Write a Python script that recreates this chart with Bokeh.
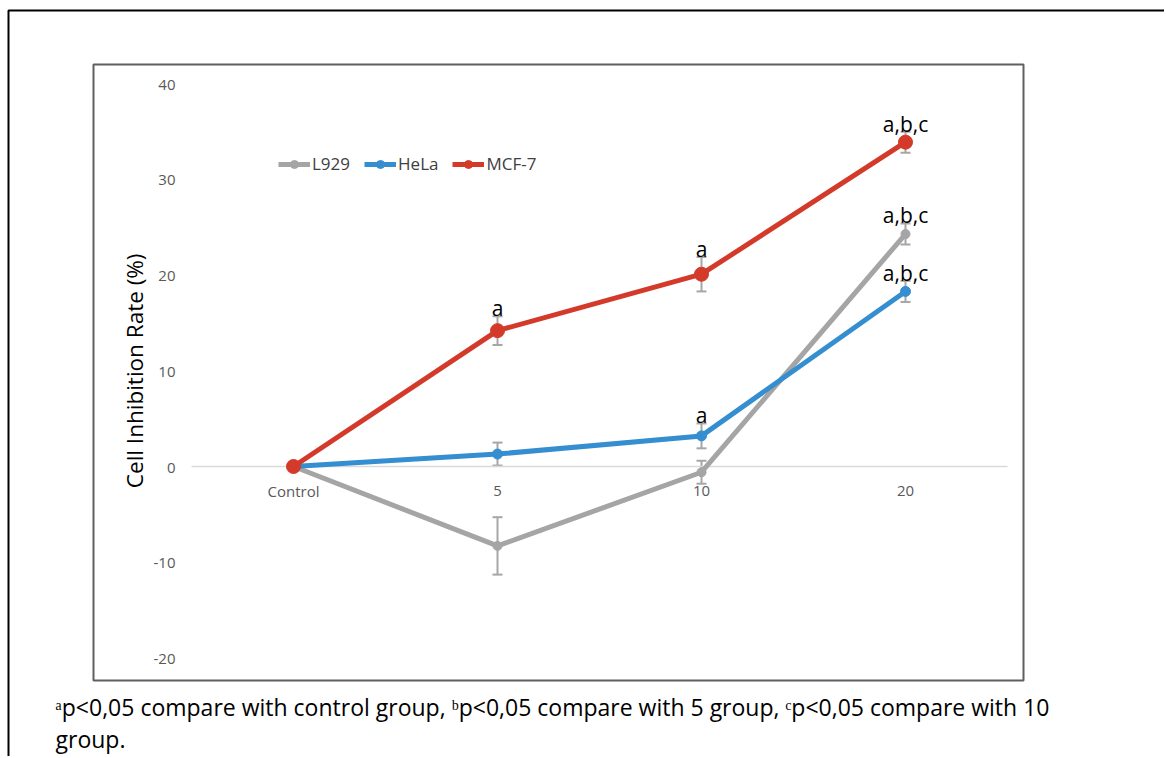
import math
from bokeh.plotting import figure
from bokeh.models import (ColumnDataSource, Range1d, BoxAnnotation, Label,
                          Legend, LegendItem, Whisker)
from bokeh.core.properties import value
from bokeh.embed import file_html
from bokeh.resources import INLINE

# ---- data ----
categories = ["Control", "5", "10", "20"]
l929 = [0.0, -8.3, -0.6, 24.3]
l929_err = [0.0, 3.0, 1.2, 1.1]
hela = [0.0, 1.3, 3.2, 18.3]
hela_err = [0.0, 1.2, 1.3, 1.1]
mcf7 = [0.0, 14.2, 20.1, 33.9]
mcf7_err = [0.0, 1.5, 1.8, 1.1]
l929_sig = ["", "", "", "a,b,c"]
hela_sig = ["", "", "a", "a,b,c"]
mcf7_sig = ["", "a", "a", "a,b,c"]
y_ticks = [-20, -10, 0, 10, 20, 30, 40]
y_tick_labels = ["-20", "-10", "0", "10", "20", "30", "40"]
y_title = "Cell Inhibition Rate (%)"
footnote_1 = "\u1d43p<0,05 compare with control group, \u1d47p<0,05 compare with 5 group, \u1d9cp<0,05 compare with 10"
footnote_2 = "group."

FONT = "Open Sans"
GRAY = "#A5A5A5"
BLUE = "#358ED0"
RED = "#D43A2A"
ERR = "#A6A6A6"

W, H = 1164, 756
PX_X = 204.0      # pixels per category step
PX_Y = 9.567      # pixels per percentage unit
X0_PIX, Y0_PIX = 293.0, 466.0   # where Control / 0 sit on the canvas

xs = list(range(len(categories)))
x_start = -X0_PIX / PX_X
x_end = (W - X0_PIX) / PX_X
y_top = Y0_PIX / PX_Y
y_bot = -(H - Y0_PIX) / PX_Y

p = figure(width=W, height=H, output_backend="svg", toolbar_location=None, tools="",
           x_range=Range1d(x_start, x_end), y_range=Range1d(y_bot, y_top),
           x_axis_location=None, y_axis_location=None,
           min_border=0, min_border_left=0, min_border_right=0, min_border_top=0, min_border_bottom=0)
p.outline_line_color = None
p.xgrid.visible = False
p.ygrid.visible = False
p.background_fill_color = "white"
p.border_fill_color = "white"

# zero line (from category edge to category edge)
p.segment(x0=[xs[0] - 0.5], y0=[0], x1=[xs[-1] + 0.5], y1=[0], line_color="#D9D9D9", line_width=1.5)

# y tick labels
p.text(x=[x_start] * len(y_ticks), y=y_ticks, text=y_tick_labels, text_font=value(FONT),
       text_font_size="15px", text_color="#595959", text_align="right", text_baseline="middle",
       x_offset=175, y_offset=1)
# y axis title
p.text(x=[x_start], y=[(y_ticks[0] + y_ticks[-1]) / 2], text=[y_title], text_font=value(FONT),
       text_font_size="22.5px", text_color="#000000", text_align="center", text_baseline="middle",
       angle=math.pi / 2, x_offset=134)

# category labels along zero line
p.text(x=xs, y=[0] * len(categories), text=categories, text_font=value(FONT),
       text_font_size="15px", text_color="#595959", text_align="center", text_baseline="middle",
       y_offset=24)

series = [("L929", l929, l929_err, l929_sig, GRAY, 9),
          ("HeLa", hela, hela_err, hela_sig, BLUE, 10),
          ("MCF-7", mcf7, mcf7_err, mcf7_sig, RED, 14)]

items = []
srcs = []
for name, vals, errs, sig, col, msize in series:
    src = ColumnDataSource(dict(x=xs, y=vals,
                                lo=[v - e for v, e in zip(vals, errs)],
                                hi=[v + e for v, e in zip(vals, errs)], sig=sig))
    srcs.append(src)
    ln = p.line("x", "y", source=src, line_color=col, line_width=5)
    mk = p.scatter("x", "y", source=src, size=msize, fill_color=col, line_color=col)
    items.append(LegendItem(label=name, renderers=[ln, mk]))

for src in srcs:
    w = Whisker(source=src, base="x", upper="hi", lower="lo", line_color=ERR, line_width=2)
    for head in (w.upper_head, w.lower_head):
        head.size = 10
        head.line_color = ERR
        head.line_width = 2
    p.add_layout(w)

for src in srcs:
    p.text("x", "hi", text="sig", source=src, text_font=value(FONT), text_font_size="21px",
           text_color="#000000", text_align="center", text_baseline="alphabetic", y_offset=-8)

legend = Legend(items=items, orientation="horizontal", location=(278, H - 175),
                label_text_font=FONT, label_text_font_size="17px", label_text_color="#404040",
                glyph_width=32, glyph_height=20, label_standoff=2, spacing=14,
                padding=0, margin=0, border_line_color=None, background_fill_alpha=0)
p.add_layout(legend)

# borders
p.add_layout(BoxAnnotation(left=8, right=W + 40, top=10, bottom=H + 40,
                           left_units="canvas", right_units="canvas", top_units="canvas", bottom_units="canvas",
                           fill_alpha=0, line_color="#000000", line_alpha=1.0, line_width=2))
p.add_layout(BoxAnnotation(left=93, right=1023, top=64, bottom=680,
                           left_units="canvas", right_units="canvas", top_units="canvas", bottom_units="canvas",
                           fill_alpha=0, line_color="#5F5F5F", line_alpha=1.0, line_width=2))

# footnote
p.add_layout(Label(x=55, y=706, x_units="canvas", y_units="canvas", text=footnote_1,
                   text_font=FONT, text_font_size="23px", text_color="#000000", text_baseline="middle"))
p.add_layout(Label(x=55, y=738, x_units="canvas", y_units="canvas", text=footnote_2,
                   text_font=FONT, text_font_size="23px", text_color="#000000", text_baseline="middle"))

open("out.html", "w").write(file_html(p, INLINE))
